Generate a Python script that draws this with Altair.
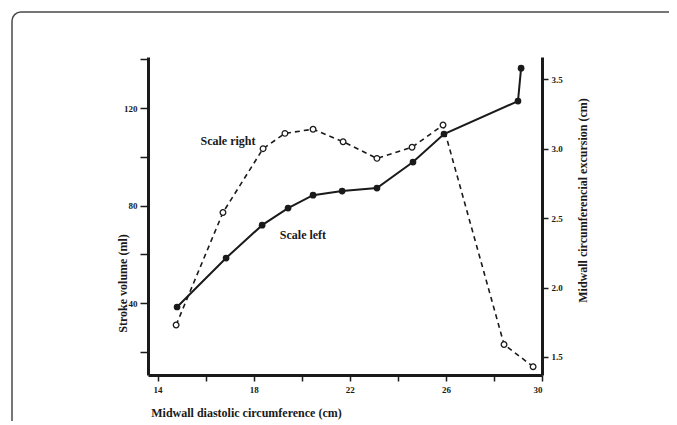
import altair as alt
import pandas as pd

# Scale left (filled circles, solid line)
circ_left = [14.81, 16.85, 18.35, 19.43, 20.47, 21.68, 23.13, 24.63, 25.92, 29.0, 29.13]
stroke_volume = [38.4, 58.5, 72.0, 79.0, 84.3, 86.0, 87.2, 97.9, 109.4, 122.9, 136.4]

# Scale right (open circles, dashed line)
circ_right = [14.77, 16.72, 18.39, 19.3, 20.47, 21.72, 23.13, 24.59, 25.88, 28.42, 29.63]
excursion = [1.73, 2.54, 3.0, 3.11, 3.14, 3.05, 2.93, 3.01, 3.17, 1.59, 1.43]

# Annotation labels (placed in data units of the left scale)
label_text = ["Scale right", "Scale left"]
label_x = [16.93, 20.05]
label_y = [106.5, 67.9]

x_ticks = [14, 16, 18, 20, 22, 24, 26, 28, 30]
left_ticks = [20, 40, 60, 80, 100, 120, 140]
right_ticks = [1.5, 2.0, 2.5, 3.0, 3.5]

FONT = "Liberation Serif"
INK = "#1a1a1a"

df_left = pd.DataFrame({"x": circ_left, "y": stroke_volume})
df_right = pd.DataFrame({"x": circ_right, "y": excursion})
df_lab = pd.DataFrame({"x": label_x, "y": label_y, "t": label_text})

x_enc = alt.X(
    "x:Q",
    scale=alt.Scale(domain=[13.6, 30], nice=False, zero=False),
    axis=alt.Axis(
        values=x_ticks,
        labelExpr="datum.value % 4 == 2 ? datum.label : ''",
        title="Midwall diastolic circumference  (cm)",
        titleX=98, titleY=37, titleAlign="center", titleBaseline="middle",
        titleAnchor=None,
        grid=False, tickSize=6, tickWidth=1.5, tickColor=INK,
        domainWidth=3, domainColor=INK,
        labelFont=FONT, labelFontWeight="bold", labelFontSize=9, labelColor=INK,
        labelPadding=4,
        titleFont=FONT, titleFontWeight="bold", titleFontSize=12, titleColor=INK,
    ),
)

y_left = alt.Y(
    "y:Q",
    scale=alt.Scale(domain=[10.5, 141], nice=False, zero=False),
    axis=alt.Axis(
        orient="left",
        values=left_ticks,
        labelExpr="datum.value % 40 == 0 ? datum.label : ''",
        title="Stroke volume  (ml)",
        titleAngle=270, titleX=-26, titleY=226, titleAlign="center",
        titleBaseline="middle",
        grid=False, tickSize=8, tickWidth=1.5, tickColor=INK,
        domainWidth=3, domainColor=INK,
        labelFont=FONT, labelFontWeight="bold", labelFontSize=9, labelColor=INK,
        labelPadding=3,
        titleFont=FONT, titleFontWeight="bold", titleFontSize=12, titleColor=INK,
    ),
)

y_right = alt.Y(
    "y:Q",
    scale=alt.Scale(domain=[1.37, 3.66], nice=False, zero=False),
    axis=alt.Axis(
        orient="right",
        values=right_ticks,
        format=".1f",
        title="Midwall circumferencial excursion (cm)",
        titleAngle=270, titleX=40, titleY=143, titleAlign="center",
        titleBaseline="middle",
        grid=False, tickSize=6, tickWidth=1.5, tickColor=INK,
        domainWidth=3, domainColor=INK,
        labelFont=FONT, labelFontWeight="bold", labelFontSize=9, labelColor=INK,
        labelPadding=3,
        titleFont=FONT, titleFontWeight="bold", titleFontSize=12, titleColor=INK,
    ),
)

frame = alt.Chart(pd.DataFrame({"a": [0]})).mark_rect(
    fill="transparent", stroke="#4a4a4a", strokeWidth=1.5, cornerRadius=9
).encode(
    x=alt.value(-136), x2=alt.value(580), y=alt.value(-45), y2=alt.value(420)
)

left_line = alt.Chart(df_left).mark_line(color=INK, strokeWidth=2).encode(
    x=x_enc, y=y_left
)
left_pts = alt.Chart(df_left).mark_point(
    shape="circle", filled=True, size=45, color=INK, opacity=1
).encode(x=x_enc, y=y_left)
labels = alt.Chart(df_lab).mark_text(
    font=FONT, fontWeight="bold", fontSize=12, color=INK, align="center",
    baseline="middle"
).encode(x=x_enc, y=y_left, text="t:N")

right_line = alt.Chart(df_right).mark_line(
    color=INK, strokeWidth=1.6, strokeDash=[5, 4]
).encode(x=x_enc, y=y_right)
right_pts = alt.Chart(df_right).mark_point(
    shape="circle", filled=False, size=32, color=INK, strokeWidth=1.3,
    fill="white", opacity=1
).encode(x=x_enc, y=y_right)

left_group = alt.layer(frame, left_line, left_pts, labels)
right_group = alt.layer(right_line, right_pts)

chart = alt.layer(left_group, right_group).resolve_scale(
    y="independent"
).properties(
    width=394,
    height=318,
    padding={"left": 140, "top": 49, "right": 127, "bottom": 46},
    autosize=alt.AutoSizeParams(type="none"),
    background="white",
).configure_view(stroke=None)

chart.save("out.html", embed_options={"renderer": "svg", "actions": False})
